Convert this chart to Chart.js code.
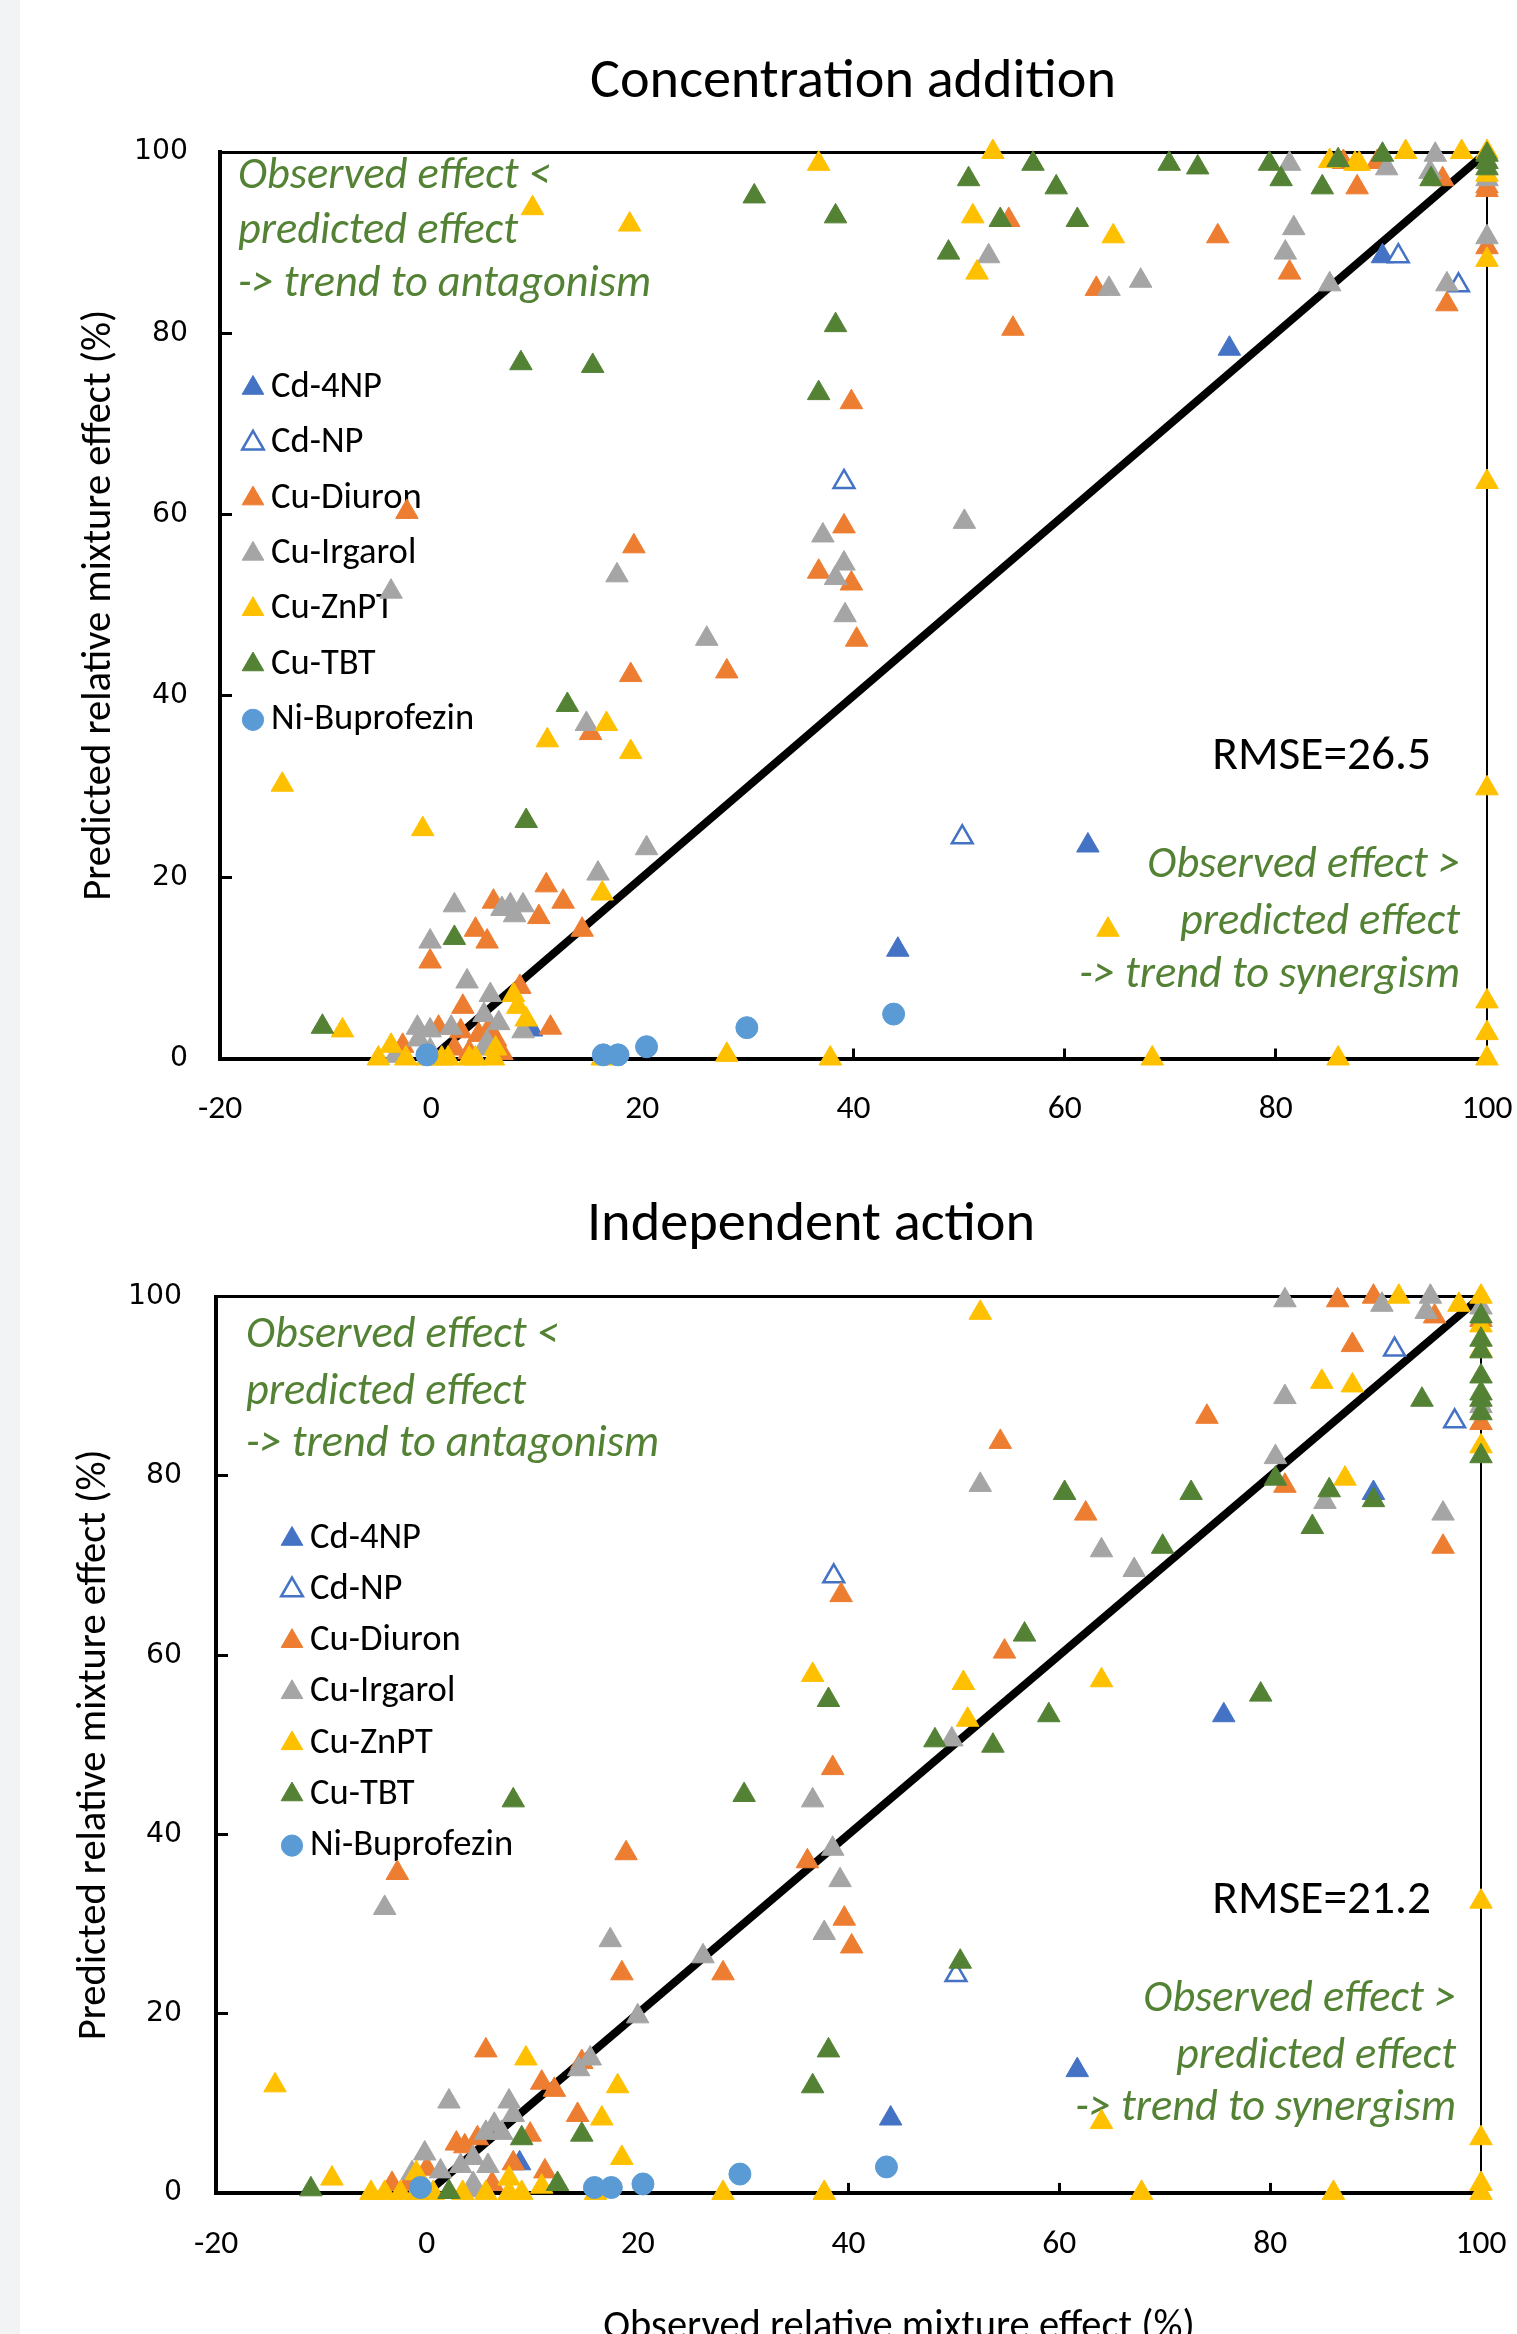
<!DOCTYPE html>
<html>
<head>
<meta charset="utf-8">
<title>Concentration addition / Independent action</title>
<script src="https://cdn.jsdelivr.net/npm/chart.js@4.4.1/dist/chart.umd.min.js"></script>
<style>
  html, body { margin: 0; padding: 0; background: #fff; }
  body { width: 1517px; height: 2334px; position: relative; overflow: hidden; }
  #strip { position: absolute; left: 0; top: 0; width: 20px; height: 2334px; background: #f2f3f5; }
  canvas { position: absolute; left: 0; }
  #ca { top: 0; }
  #ia { top: 1160px; }
</style>
</head>
<body>
<div id="strip"></div>
<canvas id="ca" width="1517" height="1160"></canvas>
<canvas id="ia" width="1517" height="1174"></canvas>
<script>
// series in legend order, later ones are drawn on top (like the Excel original)
const seriesNames = ['Cd-4NP', 'Cd-NP', 'Cu-Diuron', 'Cu-Irgarol', 'Cu-ZnPT', 'Cu-TBT', 'Ni-Buprofezin'];
const xTicks = [-20, 0, 20, 40, 60, 80, 100];
const yTicks = [0, 20, 40, 60, 80, 100];
const oneToOne = [[0, 0], [100, 100]];

// Concentration addition: [observed, predicted] in %
const caCd4np = [[75.6, 78.3], [90.1, 88.5], [62.2, 23.5], [44.2, 12.0], [9.5, 3.2]];
const caCdnp = [[91.6, 88.5], [97.3, 85.3], [39.1, 63.6], [50.3, 24.4]];
const caDiuron = [
  [-2.3, 60.3], [19.2, 56.5], [39.1, 58.7], [36.7, 53.7], [39.8, 52.4], [39.8, 72.4], [40.3, 46.2], [28.0, 42.7], [18.9, 42.3], [15.1, 35.9],
  [54.7, 92.5], [87.7, 96.1], [86.4, 98.9], [95.8, 97.0], [89.6, 98.9], [74.5, 90.7], [81.3, 86.7], [63.0, 84.9], [55.1, 80.5], [96.2, 83.2],
  [100, 96.2], [100, 95.8], [100, 89.5],
  [10.9, 19.1], [5.9, 17.3], [12.5, 17.3], [10.2, 15.6], [4.2, 14.2], [5.3, 12.9], [-0.1, 10.7], [14.3, 14.2], [8.4, 7.9], [3.0, 5.7],
  [0.7, 3.4], [11.3, 3.4], [2.8, 3.0], [-2.7, 1.4], [4.5, 2.6], [6.1, 2.1], [5.5, 3.3], [2.2, 1.1], [3.6, 0.7], [6.7, 0.6]
];
const caIrgarol = [
  [-3.8, 51.5], [17.6, 53.3], [37.1, 57.7], [39.1, 54.6], [38.3, 53.0], [39.2, 48.9], [26.1, 46.3], [14.7, 36.9], [20.4, 23.2], [15.8, 20.4],
  [2.2, 16.9], [6.7, 16.5], [7.5, 16.9], [7.9, 15.8], [8.7, 16.9], [-0.1, 12.9], [3.4, 8.5], [5.6, 7.0], [5.0, 4.8], [6.4, 3.9],
  [-1.3, 3.4], [-0.1, 3.1], [1.9, 3.4], [8.7, 3.0], [-1.2, 2.1], [5.3, 1.8], [5.1, 1.1], [-3.4, 0.3], [-0.1, 0.9],
  [81.3, 98.7], [81.7, 91.6], [80.9, 88.9], [90.5, 98.2], [95.1, 99.7], [94.6, 97.8], [52.8, 88.5], [64.2, 84.9], [67.2, 85.8], [85.1, 85.4],
  [96.2, 85.4], [100, 90.6], [100, 97.0], [50.5, 59.2]
];
const caZnpt = [
  [-14.1, 30.2], [-8.4, 3.1], [-0.8, 25.3], [9.6, 93.8], [18.8, 92.0], [11.0, 35.1], [16.6, 36.9], [18.9, 33.8], [16.2, 18.2], [36.7, 98.7],
  [53.2, 100], [51.3, 92.9], [51.7, 86.7], [64.6, 90.7], [85.1, 99.0], [87.5, 98.7], [87.9, 98.7], [92.3, 100], [97.6, 100],
  [100, 100], [100, 97.5], [100, 88.1], [100, 63.6], [100, 29.8], [100, 6.3], [100, 2.8], [100, 0],
  [64.1, 14.2], [68.3, 0], [85.9, 0], [37.8, 0], [28.0, 0.4], [16.2, 0], [7.8, 7.0], [8.2, 5.7], [9.0, 4.3],
  [-5.0, 0], [-3.8, 1.4], [-2.4, 0], [-0.4, 0], [1.0, 0], [1.6, 0], [3.6, 0], [4.2, 0], [5.9, 0], [6.1, 1.1]
];
const caTbt = [
  [-10.3, 3.5], [8.5, 76.7], [15.3, 76.4], [9.0, 26.2], [12.9, 39.0], [2.2, 13.3], [30.6, 95.1], [38.3, 92.9], [38.3, 80.9], [36.7, 73.4],
  [50.9, 97.0], [57.0, 98.7], [53.9, 92.5], [49.0, 88.9], [59.2, 96.1], [61.2, 92.5], [69.9, 98.7], [72.6, 98.3], [79.4, 98.7], [80.5, 97.0],
  [84.4, 96.1], [85.9, 99.1], [90.1, 99.7], [94.7, 97.0], [100, 99.7], [100, 98.9], [100, 98.2]
];
const caBuprofezin = [[-0.4, 0.4], [16.3, 0.4], [17.7, 0.4], [20.4, 1.3], [29.9, 3.4], [43.8, 4.9]];

// Independent action: [observed, predicted] in %
const iaCd4np = [[75.6, 53.3], [89.8, 78.1], [61.7, 13.7], [44.0, 8.3], [8.8, 3.3]];
const iaCdnp = [[91.8, 94.1], [97.5, 86.1], [38.6, 68.8], [50.2, 24.3]];
const iaDiuron = [
  [38.5, 47.4], [36.1, 37.0], [39.6, 30.6], [40.3, 27.5], [18.9, 37.9], [-2.8, 35.7], [18.5, 24.5], [28.1, 24.5], [5.6, 15.9], [14.7, 14.6],
  [10.9, 12.3], [12.1, 11.5], [14.3, 8.7], [9.8, 6.5], [2.8, 5.5], [3.6, 5.2], [4.8, 6.1], [8.2, 3.3], [11.2, 2.4], [0.0, 2.7],
  [-3.3, 1.0], [6.2, 1.0], [-1.8, 1.0], [39.3, 66.7], [86.4, 99.6], [89.8, 100], [95.6, 97.8], [87.8, 94.6], [74.0, 86.6], [54.4, 83.8],
  [81.4, 78.9], [62.5, 75.8], [96.4, 72.1], [54.8, 60.4], [100, 85.9], [100, 97.4]
];
const iaIrgarol = [
  [36.6, 43.8], [38.5, 38.4], [39.2, 34.9], [37.7, 29.0], [-4.0, 31.8], [17.4, 28.2], [26.2, 26.4], [20.0, 19.7], [15.5, 15.0], [14.4, 13.8],
  [2.1, 10.2], [7.8, 10.2], [8.2, 8.7], [6.4, 7.6], [7.1, 6.7], [5.6, 6.7], [-0.2, 4.4], [1.3, 2.4], [4.4, 3.9], [3.2, 3.0],
  [5.8, 3.0], [-1.4, 2.2], [4.4, 1.0], [4.4, 0.3], [49.8, 50.6], [81.4, 99.6], [95.2, 100], [90.6, 99.1], [94.8, 98.3], [81.4, 88.8],
  [80.5, 82.1], [85.2, 77.1], [96.4, 75.8], [52.5, 79.0], [64.0, 71.7], [67.1, 69.5], [100, 98.8], [100, 87.8]
];
const iaZnpt = [
  [-14.4, 12.0], [-9.0, 1.6], [9.4, 15.0], [18.1, 11.9], [16.6, 8.3], [18.5, 3.9], [10.9, 0.7], [7.8, 1.6], [-1.0, 2.2],
  [-5.3, 0], [-4.0, 0], [-2.5, 0], [-1.0, 0], [0.6, 0], [3.4, 0], [5.6, 0], [7.8, 0], [9.0, 0], [16.0, 0], [28.1, 0], [37.7, 0],
  [36.6, 57.8], [52.5, 98.2], [92.2, 100], [97.9, 99.1], [100, 100], [100, 96.8], [84.9, 90.5], [87.8, 90.1], [87.1, 79.7],
  [64.0, 57.2], [50.9, 56.9], [51.3, 52.8], [100, 94.0], [100, 83.3], [64.0, 7.9], [100, 32.5], [100, 6.1], [100, 1.0], [100, 0],
  [67.8, 0], [86.0, 0]
];
const iaTbt = [
  [-11.0, 0.4], [8.2, 43.8], [30.1, 44.4], [38.1, 15.9], [36.6, 11.9], [9.0, 6.1], [14.7, 6.5], [12.4, 1.0], [2.1, 0.1], [38.1, 55.0],
  [50.6, 25.8], [53.7, 49.9], [48.2, 50.5], [100, 97.8], [100, 95.2], [100, 93.9], [100, 91.1], [100, 89.2], [100, 88.5], [100, 87.0],
  [100, 82.2], [94.4, 88.5], [85.6, 78.4], [89.8, 77.3], [84.0, 74.3], [80.5, 79.7], [72.5, 78.1], [60.5, 78.1], [69.8, 72.1], [56.7, 62.3],
  [79.1, 55.6], [59.0, 53.3]
];
const iaBuprofezin = [[-0.6, 0.6], [15.9, 0.6], [17.5, 0.6], [20.5, 1.0], [29.7, 2.1], [43.6, 2.9]];

// styles (kept apart from the values)
const seriesColors = ['#4472C4', '#4472C4', '#ED7D31', '#A5A5A5', '#FFC000', '#548235', '#5B9BD5'];
const seriesFills = ['#4472C4', '#FFFFFF', '#ED7D31', '#A5A5A5', '#FFC000', '#548235', '#5B9BD5'];
const seriesShapes = ['triangle', 'triangle', 'triangle', 'triangle', 'triangle', 'triangle', 'circle'];
const GREEN = '#548235';
const FAMILY = 'Carlito, Lato, sans-serif';
const TICK_FAMILY = '"DejaVu Sans", sans-serif';

// size the fonts so the text widths match the original (Calibri) layout
const meas = document.createElement('canvas').getContext('2d');
function fit(text, width, style, family) {
  meas.font = (style ? style + ' ' : '') + '100px ' + (family || FAMILY);
  return +(100 * width / meas.measureText(text).width).toFixed(1);
}
const sz = {
  titleCA: fit('Concentration addition', 526),
  titleIA: fit('Independent action', 448),
  note: fit('-> trend to antagonism', 413, 'italic'),
  rmse: fit('RMSE=26.5', 219),
  legend: fit('Ni-Buprofezin', 203),
  axis: fit('Predicted relative mixture effect (%)', 591),
  xTick: fit('100', 51),
  yTick: fit('100', 54, '', TICK_FAMILY)
};
const noteFont = 'italic ' + sz.note + 'px ' + FAMILY;
const rmseFont = sz.rmse + 'px ' + FAMILY;
const axisFont = sz.axis + 'px ' + FAMILY;

// free text (titles, notes, RMSE), drawn under the markers
const panelText = {
  id: 'panelText',
  beforeDatasetsDraw(chart, args, opts) {
    const ctx = chart.ctx;
    ctx.save();
    opts.items.forEach(it => {
      ctx.font = it.font;
      ctx.fillStyle = it.color || '#000';
      ctx.textAlign = it.align || 'left';
      ctx.textBaseline = it.baseline || 'middle';
      ctx.fillText(it.text, it.x, it.y);
    });
    ctx.restore();
  }
};

// legend inside the plot area, markers drawn with the library's own point helper
const insideLegend = {
  id: 'insideLegend',
  beforeDatasetsDraw(chart, args, opts) {
    const ctx = chart.ctx;
    ctx.save();
    ctx.font = sz.legend + 'px ' + FAMILY;
    ctx.textAlign = 'left';
    ctx.textBaseline = 'middle';
    chart.data.datasets.forEach((ds, i) => {
      if (i >= seriesNames.length) return;
      const y = opts.y + i * opts.step;
      ctx.fillStyle = ds.backgroundColor;
      ctx.strokeStyle = ds.borderColor;
      ctx.lineWidth = ds.borderWidth;
      const r = ds.pointStyle === 'circle' ? opts.radius * 0.85 : opts.radius;
      Chart.helpers.drawPoint(ctx, { pointStyle: ds.pointStyle, radius: r, rotation: 0, borderWidth: ds.borderWidth }, opts.markerX, y);
      ctx.fillStyle = '#000';
      ctx.fillText(ds.label, opts.textX, y);
    });
    ctx.restore();
  }
};

function makeChart(id, seriesData, geo, texts, legendOpts) {
  const canvas = document.getElementById(id);
  const W = canvas.width, H = canvas.height;
  const datasets = seriesNames.map((name, i) => ({
    label: name,
    data: seriesData[i],
    pointStyle: seriesShapes[i],
    pointRadius: seriesShapes[i] === 'circle' ? 11 : (i === 1 ? 12 : 13),
    backgroundColor: seriesFills[i],
    borderColor: seriesColors[i],
    borderWidth: i === 1 ? 2.5 : 1,
    order: seriesNames.length - i,
    clip: false
  }));
  // 1:1 line under all markers
  datasets.push({
    label: '1:1', data: oneToOne, showLine: true, borderColor: '#000', borderWidth: 8,
    pointRadius: 0, order: 99, clip: false
  });

  const tickGrid = (len) => ({ drawOnChartArea: false, drawTicks: true, tickLength: len, tickWidth: 3, tickColor: '#000' });

  return new Chart(canvas, {
    type: 'scatter',
    data: { datasets },
    options: {
      responsive: false,
      animation: false,
      events: [],
      layout: { padding: { left: 0, top: geo.top, right: W - geo.right, bottom: 0 } },
      plugins: {
        legend: { display: false },
        tooltip: { enabled: false },
        panelText: { items: texts },
        insideLegend: legendOpts
      },
      scales: {
        x: {
          type: 'linear', position: 'bottom', min: -20, max: 100,
          afterBuildTicks: s => { s.ticks = xTicks.map(v => ({ value: v })); },
          afterFit: s => { s.height = H - geo.bottom; },
          // labels are pushed down through the line height, so the side padding stays small
          ticks: {
            font: { family: FAMILY, size: sz.xTick, lineHeight: (2 * (51.5 + 10)) + 'px' },
            color: '#000', padding: 0, maxRotation: 0, autoSkip: false
          },
          grid: tickGrid(-10),
          border: { display: true, width: 4, color: '#000' }
        },
        y: {
          type: 'linear', position: 'left', min: 0, max: 100,
          afterBuildTicks: s => { s.ticks = yTicks.map(v => ({ value: v })); },
          afterFit: s => { s.width = geo.left; },
          ticks: { font: { family: TICK_FAMILY, size: sz.yTick }, color: '#000', padding: 12 + geo.yTickGap },
          grid: tickGrid(-12),
          border: { display: true, width: 4, color: '#000' },
          title: {
            display: true, text: 'Predicted relative mixture effect (%)', color: '#000',
            font: { family: FAMILY, size: sz.axis },
            padding: { top: geo.yTitleX - 0.6 * sz.axis, bottom: 0 }
          }
        },
        // plain frame lines on top and right
        xTop: {
          axis: 'x', type: 'linear', position: 'top', min: 0, max: 1,
          afterFit: s => { s.height = 0; },
          ticks: { display: false },
          grid: { drawOnChartArea: false, drawTicks: false },
          border: { display: true, width: 3, color: '#000' }
        },
        yRight: {
          axis: 'y', type: 'linear', position: 'right', min: 0, max: 1,
          afterFit: s => { s.width = 0; },
          ticks: { display: false },
          grid: { drawOnChartArea: false, drawTicks: false },
          border: { display: true, width: 2, color: '#000' }
        }
      }
    },
    plugins: [panelText, insideLegend]
  });
}

makeChart('ca',
  [caCd4np, caCdnp, caDiuron, caIrgarol, caZnpt, caTbt, caBuprofezin],
  { left: 220, right: 1487, top: 152, bottom: 1058.5, yTitleX: 100, yTickGap: 32 },
  [
    { text: 'Concentration addition', x: 853, y: 83, font: sz.titleCA + 'px ' + FAMILY, align: 'center' },
    { text: 'Observed effect <', x: 238, y: 177, font: noteFont, color: GREEN },
    { text: 'predicted effect', x: 238, y: 232, font: noteFont, color: GREEN },
    { text: '-> trend to antagonism', x: 238, y: 285, font: noteFont, color: GREEN },
    { text: 'RMSE=26.5', x: 1431, y: 757, font: rmseFont, align: 'right' },
    { text: 'Observed effect >', x: 1460, y: 866, font: noteFont, color: GREEN, align: 'right' },
    { text: 'predicted effect', x: 1460, y: 923, font: noteFont, color: GREEN, align: 'right' },
    { text: '-> trend to synergism', x: 1460, y: 976, font: noteFont, color: GREEN, align: 'right' }
  ],
  { markerX: 253, textX: 271, y: 388, step: 55.3, radius: 12.5 }
);

makeChart('ia',
  [iaCd4np, iaCdnp, iaDiuron, iaIrgarol, iaZnpt, iaTbt, iaBuprofezin],
  { left: 216, right: 1481, top: 136.7, bottom: 1032.9, yTitleX: 95, yTickGap: 34 },
  [
    { text: 'Independent action', x: 811, y: 66, font: sz.titleIA + 'px ' + FAMILY, align: 'center' },
    { text: 'Observed effect <', x: 246, y: 176, font: noteFont, color: GREEN },
    { text: 'predicted effect', x: 246, y: 233, font: noteFont, color: GREEN },
    { text: '-> trend to antagonism', x: 246, y: 285, font: noteFont, color: GREEN },
    { text: 'RMSE=21.2', x: 1431, y: 741, font: rmseFont, align: 'right' },
    { text: 'Observed effect >', x: 1456, y: 840, font: noteFont, color: GREEN, align: 'right' },
    { text: 'predicted effect', x: 1456, y: 897, font: noteFont, color: GREEN, align: 'right' },
    { text: '-> trend to synergism', x: 1456, y: 949, font: noteFont, color: GREEN, align: 'right' },
    { text: 'Observed relative mixture effect (%)', x: 899, y: 1178, font: axisFont, align: 'center', baseline: 'alphabetic' }
  ],
  { markerX: 292, textX: 310, y: 379, step: 51.1, radius: 12.5 }
);
</script>
</body>
</html>
